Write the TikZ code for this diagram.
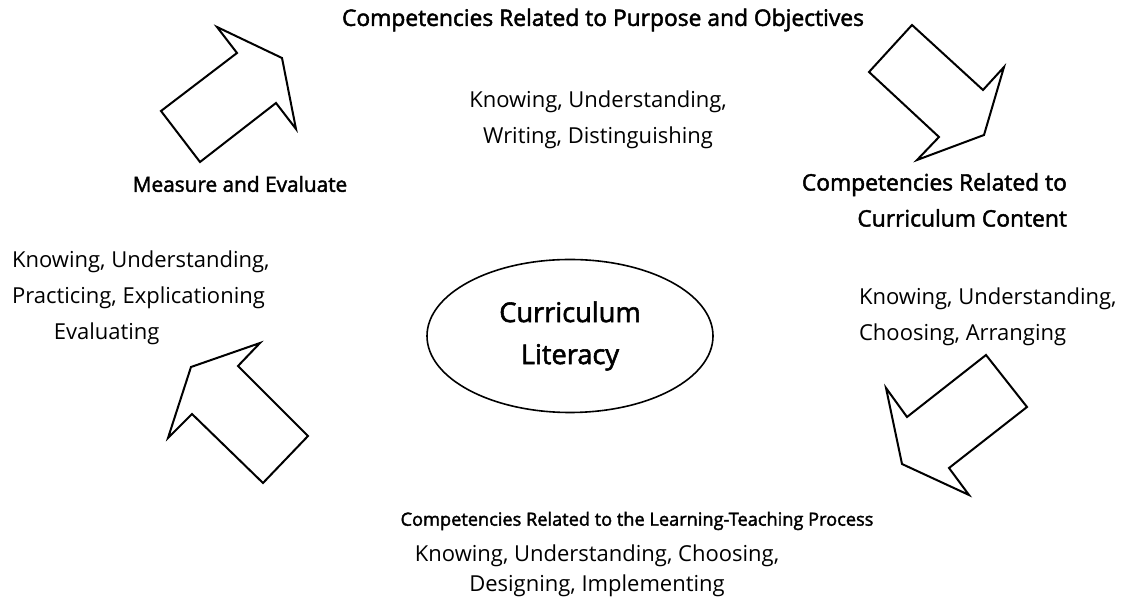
\documentclass[tikz,border=0pt]{standalone}
\usepackage{fontspec}
\setmainfont{Open Sans}
\newfontfamily\headfont[FakeBold=2]{Open Sans}
\usetikzlibrary{positioning,shapes.geometric}

\begin{document}
\begin{tikzpicture}[%
	x=0.5pt, y=-0.5pt,
	align=center,
	every node/.style={font=\fontsize{11}{18}\selectfont},
	headnode/.style={font=\headfont\fontsize{11.4}{18}\selectfont},
	blockarrow/.style={draw, line width=1pt, line join=miter, fill=white}
	]
	\useasboundingbox (0,0) rectangle (1129,597);
	
	% centre
	\node[ellipse, draw, line width=0.8pt, minimum width=143pt, minimum height=76.5pt,
	font=\headfont\fontsize{13.6}{21}\selectfont] (lit) at (570,336) {Curriculum\\Literacy};
	
	% purpose and objectives
	\node[headnode] (purpose) at (603,20) {Competencies Related to Purpose and Objectives};
	\node (purposetxt) at (598,120) {Knowing, Understanding,\\Writing, Distinguishing};
	
	% content
	\node[headnode, align=right, anchor=east] (content) at (1074,200) {Competencies Related to\\Curriculum Content};
	\node[align=left, anchor=west] (contenttxt) at (852,317) {Knowing, Understanding,\\Choosing, Arranging};
	
	% learning-teaching process
	\node[headnode, font=\headfont\fontsize{9.1}{18}\selectfont] (process) at (637,521) {Competencies Related to the Learning-Teaching Process};
	\node[font=\fontsize{11}{15}\selectfont] (processtxt) at (597,571) {Knowing, Understanding, Choosing,\\Designing, Implementing};
	
	% measure and evaluate
	\node[headnode, font=\headfont\fontsize{10.4}{18}\selectfont] (measure) at (240,184) {Measure and Evaluate};
	\node[align=left, anchor=west] (measuretxt) at (5,298) {Knowing, Understanding,\\Practicing, Explicationing\\\hspace*{1.9em}Evaluating};
	
	% block arrows
	\draw[blockarrow] (161,111) -- (200,162) -- (276,103) -- (296,129) -- (282,58)
	-- (217,27) -- (237,53) -- cycle;
	\draw[blockarrow] (912,25) -- (869,72) -- (939,137) -- (917,160) -- (984,135)
	-- (1004,67) -- (983,90) -- cycle;
	\draw[blockarrow] (986,355) -- (1027,407) -- (949,468) -- (969,495) -- (902,464)
	-- (886,388) -- (907,417) -- cycle;
	\draw[blockarrow] (308,436) -- (263,483) -- (192,414) -- (168,438) -- (191,367)
	-- (260,343) -- (238,366) -- cycle;
\end{tikzpicture}
\end{document}
